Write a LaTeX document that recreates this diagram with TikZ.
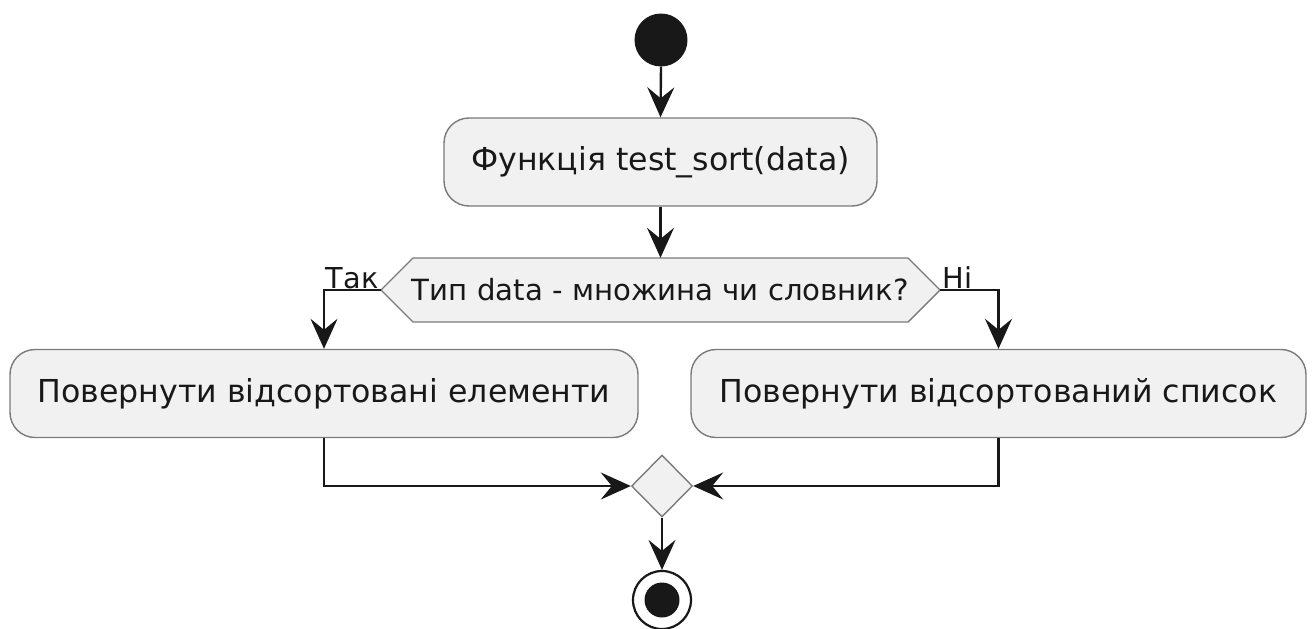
\documentclass[tikz,border=0pt]{standalone}
\usepackage{fontspec}
\setmainfont{DejaVu Sans}
\usetikzlibrary{shapes.geometric,arrows.meta,calc}
\definecolor{boxfill}{HTML}{F1F1F1}
\definecolor{boxline}{HTML}{7A7A7A}
\definecolor{ink}{HTML}{181818}
\tikzset{
  actbox/.style={draw=boxline, line width=1.4pt, fill=boxfill, rounded corners=25pt,
    minimum height=88pt, inner sep=0pt, text=ink, font=\fontsize{31.6}{38}\selectfont},
  flow/.style={draw=ink, line width=2.4pt, -{Stealth[length=30pt,width=27pt,inset=11pt]}},
  lbl/.style={text=ink, inner sep=1pt, font=\fontsize{28.8}{34}\selectfont},
}
\begin{document}
\begin{tikzpicture}[x=1pt,y=-1pt]
\useasboundingbox (0,0) rectangle (1312,629);
\node[circle, fill=ink, minimum size=53pt, inner sep=0pt] (start) at (661,40) {};
\node[actbox, minimum width=433pt] (f) at (660.5,162) {Функція test\_sort(data)};
% decision hexagon
\path[draw=boxline, line width=1.4pt, fill=boxfill]
  (381,290) -- (413,258) -- (908,258) -- (940,290) -- (908,322) -- (413,322) -- cycle;
\node[minimum width=559pt, minimum height=64pt, inner sep=0pt, text=ink,
  font=\fontsize{29.2}{35}\selectfont] (dec) at (660.5,290) {Тип data - множина чи словник?};
\node[actbox, minimum width=628pt] (b1) at (324,393.5) {Повернути відсортовані елементи};
\node[actbox, minimum width=615pt] (b2) at (998.5,393.5) {Повернути відсортований список};
\node[diamond, draw=boxline, line width=1.4pt, fill=boxfill, minimum width=61pt,
  minimum height=62pt, inner sep=0pt] (m) at (662,486) {};
\node[circle, draw=ink, line width=2.2pt, fill=white, minimum size=58pt, inner sep=0pt] (end) at (662,600) {};
\node[circle, fill=ink, minimum size=35pt, inner sep=0pt] (endin) at (end.center) {};
\draw[flow] (start.south) -- (f.north);
\draw[flow] (f.south) -- (dec.north);
\draw[flow] (dec.west) -| (b1.north);
\draw[flow] (dec.east) -| (b2.north);
\draw[flow] (b1.south) |- (m.west);
\draw[flow] (b2.south) |- (m.east);
\draw[flow] (m.south) -- (end.north);
\node[lbl, anchor=south east] (yes) at ($(dec.west)+(-1,0)$) {Так};
\node[lbl, anchor=south west] (no) at ($(dec.east)+(1,0)$) {Ні};
\end{tikzpicture}
\end{document}
